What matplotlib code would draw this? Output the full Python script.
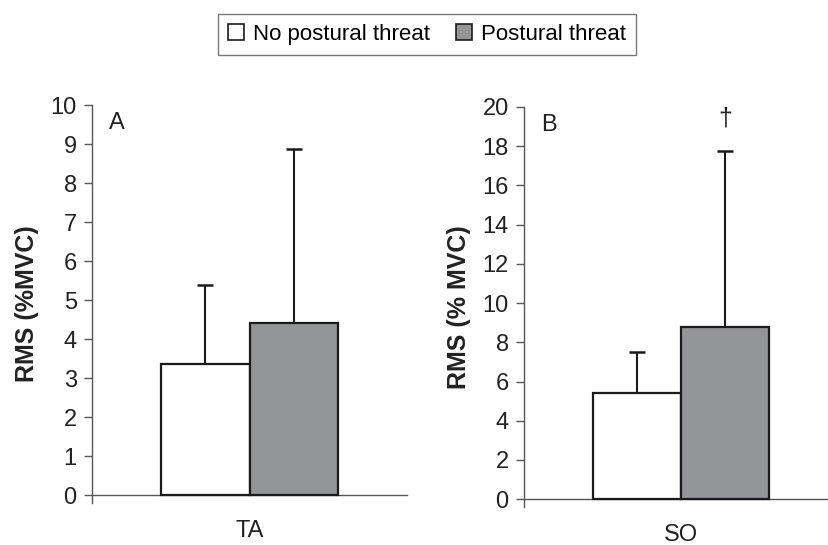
import matplotlib
matplotlib.use("Agg")
import matplotlib.pyplot as plt
from matplotlib.patches import Patch

plt.rcParams['font.family'] = ['Liberation Sans', 'DejaVu Sans']

conditions = ["No postural threat", "Postural threat"]
colors = ["#ffffff", "#939598"]

ta_means = [3.36, 4.41]
ta_sd = [2.02, 4.46]
so_means = [5.4, 8.78]
so_sd = [2.1, 8.98]

panels = [
    dict(cat="TA", means=ta_means, sd=ta_sd, ylim=10, step=1, label="A",
         ylabel="RMS (%MVC)", pos=[0.111, 0.077, 0.380, 0.730]),
    dict(cat="SO", means=so_means, sd=so_sd, ylim=20, step=2, label="B",
         ylabel="RMS (% MVC)", pos=[0.632, 0.0697, 0.379, 0.734]),
]

fig = plt.figure(figsize=(8.29, 5.45), dpi=100)
axes = []
for p in panels:
    ax = fig.add_axes(p["pos"])
    w = 0.28
    offs = [-w / 2, w / 2]
    for i in range(2):
        ax.bar(offs[i], p["means"][i], width=w, color=colors[i],
               edgecolor="#1a1a1a", linewidth=1.6, zorder=3)
        ax.errorbar(offs[i], p["means"][i], yerr=[[0], [p["sd"][i]]],
                    fmt="none", ecolor="#1a1a1a", elinewidth=1.5,
                    capsize=6, capthick=1.8, zorder=2)
    ymin = -p["ylim"] * 0.02
    ax.set_ylim(ymin, p["ylim"])
    ax.set_xlim(-0.5, 0.5)
    ax.set_yticks(range(0, p["ylim"] + 1, p["step"]))
    ax.set_xticks([])
    ax.spines["top"].set_visible(False)
    ax.spines["right"].set_visible(False)
    ax.spines["bottom"].set_position(("data", 0))
    for s in ("left", "bottom"):
        ax.spines[s].set_color("#555555")
        ax.spines[s].set_linewidth(1.0)
    ax.tick_params(axis="y", direction="out", length=6, width=1.0,
                   color="#555555", labelsize=17, pad=5, labelcolor="#222222")
    ax.set_ylabel(p["ylabel"], fontsize=18, fontweight="bold", labelpad=8,
                  color="#222222")
    ax.text(0.0, -0.07, p["cat"], transform=ax.get_xaxis_transform(),
            ha="center", va="center", fontsize=17, color="#222222")
    ax.text(0.08, p["ylim"] * 0.955, p["label"], transform=ax.get_yaxis_transform(),
            ha="center", va="center", fontsize=17, color="#222222")
    axes.append(ax)

axes[1].text(0.14, 19.4, "\u2020", ha="center", va="center", fontsize=18,
             color="#222222")

handles = [Patch(facecolor=colors[i], edgecolor="#1a1a1a", linewidth=1.2)
           for i in range(2)]
leg = fig.legend(handles, conditions, loc="center", bbox_to_anchor=(0.515, 0.937),
                 ncol=2, fontsize=16, frameon=True, fancybox=False,
                 edgecolor="#555555", handlelength=0.7, handleheight=0.7,
                 handletextpad=0.4, columnspacing=1.2, borderpad=0.45)
leg.get_frame().set_linewidth(1.0)

fig.savefig("out.png", dpi=100)
